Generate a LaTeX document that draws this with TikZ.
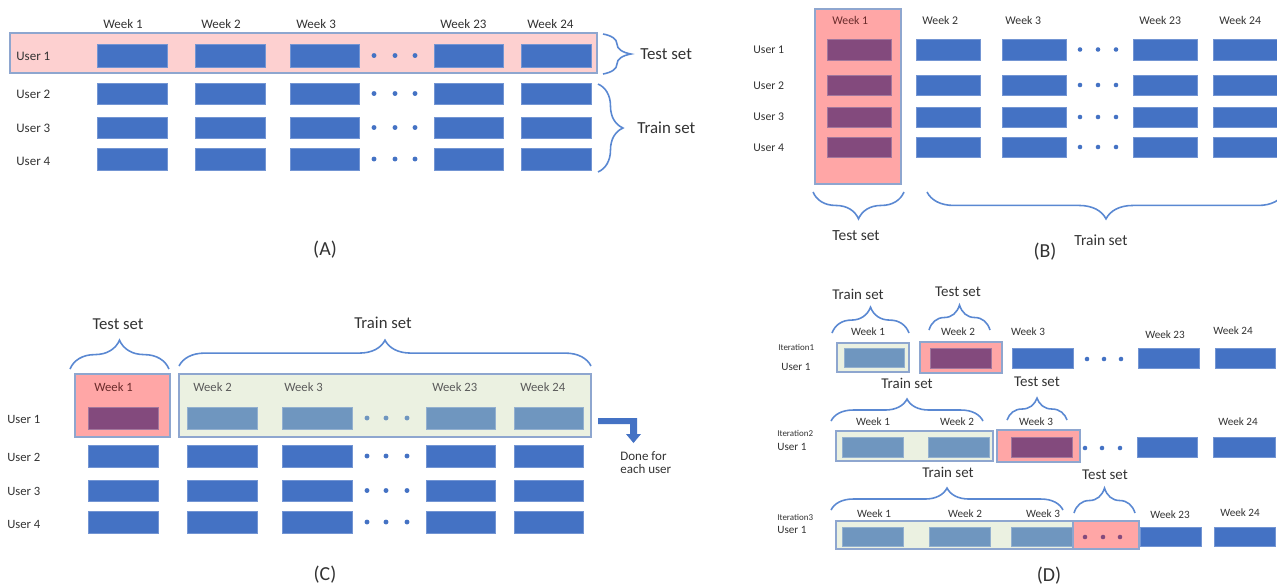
\documentclass[tikz,border=0pt]{standalone}
\usepackage{fontspec}
\setmainfont{Carlito}
\usetikzlibrary{decorations.pathreplacing}

\definecolor{wblue}{HTML}{4472C4}
\definecolor{lblue}{HTML}{6F96BF}
\definecolor{plum}{HTML}{834A7D}
\definecolor{salmon}{HTML}{FFA6A6}
\definecolor{blush}{HTML}{FDD0D0}
\definecolor{sage}{HTML}{EBF1E1}
\definecolor{edge}{HTML}{8EA6CF}
\definecolor{brcol}{HTML}{5A88D2}
\definecolor{ink}{HTML}{333333}
\definecolor{wine}{HTML}{6A2B2B}
\definecolor{mute}{HTML}{5A5A5A}

\newcommand{\setfs}[1]{\fontsize{#1}{#1}\selectfont}

\tikzset{
  wbox/.style={fill=wblue, draw=wblue!75!white, line width=0.3pt},
  lbox/.style={fill=lblue, draw=lblue!75!white, line width=0.3pt},
  pbox/.style={fill=plum, draw=plum!75!white, line width=0.3pt},
  testbg/.style={fill=salmon, draw=edge, line width=0.6pt},
  trainbg/.style={fill=sage, draw=edge, line width=0.6pt},
  brc/.style={draw=brcol, line width=0.9pt, decorate, decoration={brace, amplitude=#1}},
  lbl/.style={inner sep=0pt, text=ink},
}

\begin{document}
\begin{tikzpicture}[x=0.02cm, y=-0.02cm]
\useasboundingbox (0,0) rectangle (1277,586);
\fill[white] (0,0) rectangle (1277,586);

% ---------- (A): one user held out ----------
\path[fill=blush, draw=edge, line width=0.6pt] (10,33) rectangle (597,73);
\foreach \t/\b in {44/67,83/104,117/138,148/170} {
  \foreach \l/\r in {97/167,195/265,290/359,434/503,521/591}
    \path[wbox] (\l,\t) rectangle (\r,\b);
  \foreach \d in {374,395,415}
    \fill[wblue] (\d,{(\t+\b)/2}) circle[radius=1.4pt];
}
\foreach \n/\x in {1/103,2/201,3/296,23/440,24/527}
  \node[lbl, font=\setfs{7.4}, anchor=west] (a-w\n) at (\x,24) {Week \n};
\foreach \n/\y in {1/56,2/94,3/128,4/161}
  \node[lbl, font=\setfs{7.4}, anchor=west] (a-u\n) at (16,\y) {User \n};
\draw[brc=15.9pt] (603,34) -- (603,74);
\node[lbl, font=\setfs{9.6}, anchor=west] (a-test) at (640,54) {Test set};
\draw[brc=14.2pt] (598,84) -- (598,172);
\node[lbl, font=\setfs{9.6}, anchor=west] (a-train) at (637,128) {Train set};
\node[lbl, font=\setfs{11.3}] (a-cap) at (325,250) {(A)};

% ---------- (B): first week held out ----------
\path[testbg] (815,9) rectangle (901,184);
\foreach \t/\b in {39/60,75/95,107/127,137/157} {
  \path[pbox] (827,\t) rectangle (891,\b);
  \foreach \l/\r in {916/980,1002/1066,1133/1197,1213/1290}
    \path[wbox] (\l,\t) rectangle (\r,\b);
  \foreach \d in {1080,1098,1116}
    \fill[wblue] (\d,{(\t+\b)/2}) circle[radius=1.3pt];
}
\node[lbl, font=\setfs{6.7}, anchor=west, text=wine] (b-w1) at (832,20) {Week 1};
\foreach \n/\x in {2/922,3/1005,23/1139,24/1219}
  \node[lbl, font=\setfs{6.7}, anchor=west] (b-w\n) at (\x,20) {Week \n};
\foreach \n/\y in {1/50,2/86,3/117,4/148}
  \node[lbl, font=\setfs{6.7}, anchor=west] (b-u\n) at (753,\y) {User \n};
\begin{scope}
  \clip (0,0) rectangle (1277,586);
  \draw[brc=15.3pt] (904,192) -- (813,192);
  \draw[brc=15.3pt] (1285,192) -- (927,192);
\end{scope}
\node[lbl, font=\setfs{8.8}] (b-test) at (856,236) {Test set};
\node[lbl, font=\setfs{8.8}] (b-train) at (1101,240) {Train set};
\node[lbl, font=\setfs{11.3}] (b-cap) at (1045,252) {(B)};

% ---------- (C): per-user first week held out ----------
\path[testbg] (75,374) rectangle (170,437);
\path[trainbg] (179,374) rectangle (591,437);
\path[pbox] (88,407) rectangle (158,429);
\foreach \l/\r in {187/257,282/352,426/495,514/583}
  \path[lbox] (\l,407) rectangle (\r,429);
\foreach \d in {367,386,407}
  \fill[lblue] (\d,418) circle[radius=1.4pt];
\foreach \t/\b in {445/467,480/501,511/533} {
  \foreach \l/\r in {88/158,187/257,282/352,426/495,514/583}
    \path[wbox] (\l,\t) rectangle (\r,\b);
  \foreach \d in {367,386,407}
    \fill[wblue] (\d,{(\t+\b)/2}) circle[radius=1.4pt];
}
\node[lbl, font=\setfs{7.2}, anchor=west, text=wine] (c-w1) at (94,387) {Week 1};
\foreach \n/\x in {2/193,3/284,23/432,24/520}
  \node[lbl, font=\setfs{7.2}, anchor=west, text=mute] (c-w\n) at (\x,387) {Week \n};
\foreach \n/\y in {1/419,2/457,3/491,4/524}
  \node[lbl, font=\setfs{7.2}, anchor=west] (c-u\n) at (7,\y) {User \n};
\draw[brc=16.4pt] (70,369) -- (169,369);
\draw[brc=14.7pt] (179,366) -- (591,366);
\node[lbl, font=\setfs{9.5}] (c-test) at (118,324) {Test set};
\node[lbl, font=\setfs{9.5}] (c-train) at (383,323) {Train set};
% bent arrow pointing down to the note
\fill[wblue] (598,418) -- (637,418) -- (637,434) -- (641,434) -- (633.5,443)
  -- (626,434) -- (630,434) -- (630,424) -- (598,424) -- cycle;
\node[lbl, font=\setfs{7.4}, anchor=north west, align=left] (c-note) at (620,451) {Done for\\each user};
\node[lbl, font=\setfs{11.3}] (c-cap) at (325,575) {(C)};

% ---------- (D): expanding window per user ----------
% iteration 1
\path[trainbg] (837,343) rectangle (909,372);
\path[lbox] (844,348) rectangle (904,367);
\path[testbg] (920,342) rectangle (1002,373);
\path[pbox] (930,348) rectangle (991,368);
\foreach \l/\r in {1012/1073,1138/1199,1215/1275}
  \path[wbox] (\l,348) rectangle (\r,368);
\foreach \d in {1087,1104,1121}
  \fill[wblue] (\d,359) circle[radius=1.3pt];
\node[lbl, font=\setfs{6.35}] (d1-w1) at (868,332) {Week 1};
\node[lbl, font=\setfs{6.35}] (d1-w2) at (958,332) {Week 2};
\node[lbl, font=\setfs{6.35}] (d1-w3) at (1028,332) {Week 3};
\node[lbl, font=\setfs{6.35}] (d1-w23) at (1165,335) {Week 23};
\node[lbl, font=\setfs{6.35}] (d1-w24) at (1233,331) {Week 24};
\node[lbl, font=\setfs{5.1}, anchor=west] (d1-it) at (778,347) {Iteration1};
\node[lbl, font=\setfs{6.35}, anchor=west] (d1-u) at (781,367) {User 1};
\draw[brc=14.7pt] (832,333) -- (909,333);
\draw[brc=14.2pt] (929,330) -- (990,330);
\node[lbl, font=\setfs{8.5}] (d1-train) at (858,294) {Train set};
\node[lbl, font=\setfs{8.5}] (d1-test) at (958,292) {Test set};

% iteration 2
\path[trainbg] (836,431) rectangle (993,461);
\path[lbox] (842,437) rectangle (903,457);
\path[lbox] (928,437) rectangle (989,457);
\path[testbg] (997,430) rectangle (1080,462);
\path[pbox] (1011,437) rectangle (1072,457);
\foreach \l/\r in {1137/1197,1213/1275}
  \path[wbox] (\l,437) rectangle (\r,457);
\foreach \d in {1085,1102,1120}
  \fill[wblue] (\d,448) circle[radius=1.3pt];
\node[lbl, font=\setfs{6.35}] (d2-w1) at (873,422) {Week 1};
\node[lbl, font=\setfs{6.35}] (d2-w2) at (957,422) {Week 2};
\node[lbl, font=\setfs{6.35}] (d2-w3) at (1036,422) {Week 3};
\node[lbl, font=\setfs{6.35}] (d2-w24) at (1238,422) {Week 24};
\node[lbl, font=\setfs{5.1}, anchor=west] (d2-it) at (777,433) {Iteration2};
\node[lbl, font=\setfs{6.35}, anchor=west] (d2-u) at (777,447) {User 1};
\draw[brc=12.5pt] (831,421) -- (983,421);
\draw[brc=12.5pt] (1007,420) -- (1067,420);
\node[lbl, font=\setfs{8.5}] (d2-train) at (907,383) {Train set};
\node[lbl, font=\setfs{8.5}] (d2-test) at (1037,382) {Test set};

% iteration 3
\path[trainbg] (836,521) rectangle (1073,549);
\foreach \l/\r in {842/903,929/990,1011/1072}
  \path[lbox] (\l,527) rectangle (\r,546);
\path[testbg] (1073,521) rectangle (1139,549);
\foreach \d in {1085,1103,1120}
  \fill[plum] (\d,537) circle[radius=1.3pt];
\foreach \l/\r in {1140/1201,1214/1275}
  \path[wbox] (\l,527) rectangle (\r,546);
\node[lbl, font=\setfs{6.35}] (d3-w1) at (874,514) {Week 1};
\node[lbl, font=\setfs{6.35}] (d3-w2) at (965,514) {Week 2};
\node[lbl, font=\setfs{6.35}] (d3-w3) at (1043,514) {Week 3};
\node[lbl, font=\setfs{6.35}] (d3-w23) at (1170,515) {Week 23};
\node[lbl, font=\setfs{6.35}] (d3-w24) at (1240,513) {Week 24};
\node[lbl, font=\setfs{5.1}, anchor=west] (d3-it) at (777,517) {Iteration3};
\node[lbl, font=\setfs{6.35}, anchor=west] (d3-u) at (777,530) {User 1};
\draw[brc=12.5pt] (831,510) -- (1063,510);
\draw[brc=14.2pt] (1074,513) -- (1135,513);
\node[lbl, font=\setfs{8.5}] (d3-train) at (948,472) {Train set};
\node[lbl, font=\setfs{8.5}] (d3-test) at (1105,475) {Test set};

\node[lbl, font=\setfs{11.3}] (d-cap) at (1049,576) {(D)};
\end{tikzpicture}
\end{document}
